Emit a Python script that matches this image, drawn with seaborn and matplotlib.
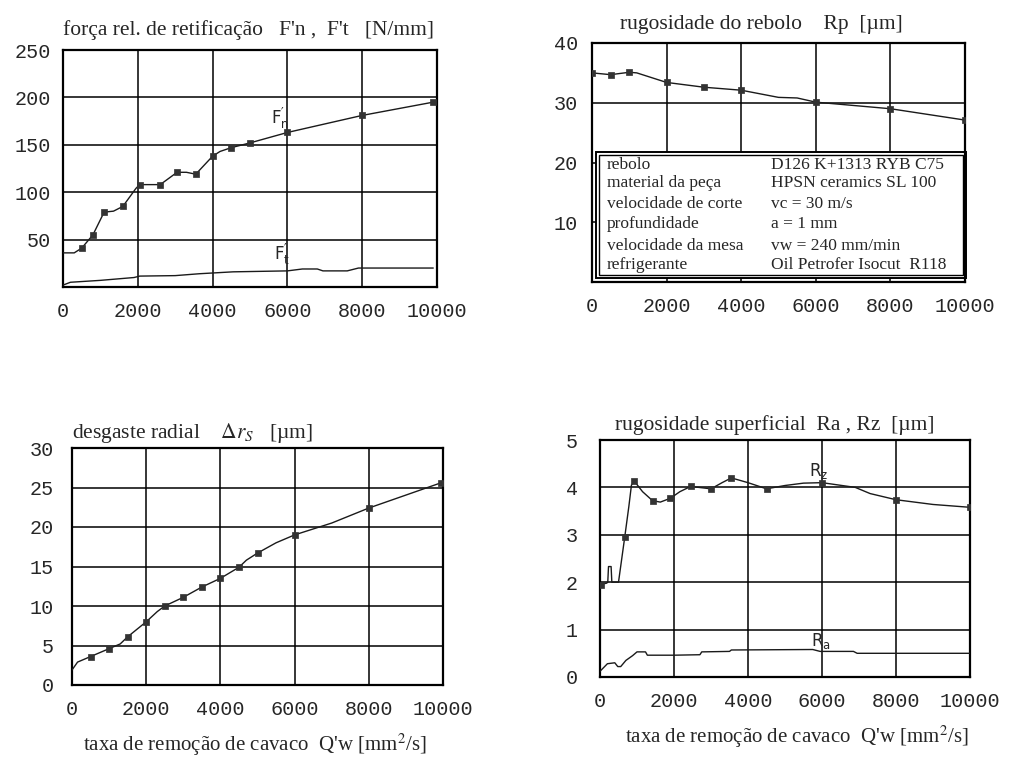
import pandas as pd
import seaborn as sns
import matplotlib.pyplot as plt
from matplotlib.patches import Rectangle

# ---- data ----
XTICKS = [0, 2000, 4000, 6000, 8000, 10000]

# força relativa de retificação F'n / F't [N/mm]
fn_x = [0, 300, 500, 800, 1100, 1350, 1600, 1950, 2050, 2600, 3050, 3300, 3550, 4000, 4200, 4500, 5000, 6000, 8000, 9900]
fn_y = [36, 36, 41, 55, 79, 80, 85, 104, 108, 108, 121, 121, 119, 138, 143, 147, 152, 163, 181, 195]
fn_mark_x = [500, 800, 1100, 1600, 2050, 2600, 3050, 3550, 4000, 4500, 5000, 6000, 8000, 9900]
fn_mark_y = [41, 55, 79, 85, 108, 108, 121, 119, 138, 147, 152, 163, 181, 195]
ft_x = [0, 200, 1000, 1900, 2050, 3000, 3650, 4550, 6000, 6400, 6800, 6950, 7600, 7900, 9900]
ft_y = [2, 5, 7, 10, 11.5, 12, 14, 16, 17, 19, 19, 17, 17, 20, 20]

# rugosidade do rebolo Rp [um]
rp_x = [0, 500, 1000, 1200, 1600, 2000, 2500, 3000, 4000, 4500, 5000, 5500, 6000, 8000, 10000]
rp_y = [35.0, 34.7, 35.1, 35.0, 34.2, 33.4, 33.0, 32.6, 32.1, 31.5, 30.9, 30.8, 30.1, 29.0, 27.1]
rp_mark_x = [0, 500, 1000, 2000, 3000, 4000, 6000, 8000, 10000]
rp_mark_y = [35.0, 34.7, 35.1, 33.4, 32.6, 32.1, 30.1, 29.0, 27.1]

# desgaste radial [um]
dr_x = [0, 150, 500, 1000, 1300, 1500, 2000, 2300, 2500, 3000, 3500, 4000, 4500, 4700, 5000, 5500, 6000, 7000, 8000, 9950]
dr_y = [1.9, 2.9, 3.6, 4.6, 5.2, 6.1, 8.0, 9.3, 10.0, 11.1, 12.4, 13.5, 14.9, 15.8, 16.7, 18.0, 19.0, 20.5, 22.4, 25.6]
dr_mark_x = [500, 1000, 1500, 2000, 2500, 3000, 3500, 4000, 4500, 5000, 6000, 8000, 9950]
dr_mark_y = [3.6, 4.6, 6.1, 8.0, 10.0, 11.1, 12.4, 13.5, 14.9, 16.7, 19.0, 22.4, 25.6]

# rugosidade superficial Ra, Rz [um]
rz_x = [0, 180, 210, 230, 300, 320, 500, 670, 780, 850, 930, 1150, 1420, 1630, 1900, 2160, 2450, 3000,
        3300, 3550, 4000, 4500, 5000, 5500, 6000, 6900, 7300, 8000, 9000, 10000]
rz_y = [1.95, 1.98, 2.0, 2.33, 2.33, 2.0, 2.0, 2.96, 3.6, 4.05, 4.13, 3.91, 3.72, 3.69, 3.77, 3.91, 4.02, 3.97,
        4.1, 4.2, 4.1, 3.97, 4.04, 4.09, 4.1, 4.0, 3.87, 3.74, 3.64, 3.58]
rz_mark_x = [30, 670, 930, 1420, 1900, 2450, 3000, 3550, 4500, 6000, 8000, 10000]
rz_mark_y = [1.95, 2.96, 4.13, 3.72, 3.77, 4.02, 3.97, 4.2, 3.97, 4.1, 3.74, 3.58]
ra_x = [0, 200, 400, 480, 560, 700, 880, 1000, 1230, 1280, 2000, 2700, 2750, 3500, 3550, 5750, 5950, 6850, 6950, 10000]
ra_y = [0.12, 0.28, 0.30, 0.22, 0.22, 0.35, 0.45, 0.53, 0.53, 0.46, 0.46, 0.47, 0.53, 0.54, 0.57, 0.58, 0.54, 0.54, 0.50, 0.50]

box_labels = ["rebolo", "material da peça", "velocidade de corte", "profundidade",
              "velocidade da mesa", "refrigerante"]
box_values = ["D126 K+1313 RYB C75", "HPSN ceramics SL 100", "vc = 30 m/s", "a = 1 mm",
              "vw = 240 mm/min", "Oil Petrofer Isocut  R118"]

sns.set_style("white")
plt.rcParams["font.family"] = ["Liberation Serif", "DejaVu Serif"]
plt.rcParams["mathtext.fontset"] = "stix"

W, H = 1009, 758
fig = plt.figure(figsize=(W / 100, H / 100), dpi=100)

LINE = "#1a1a1a"
MONO = "Liberation Mono"
TITLE_FS = 15.5


def px_box(l, t, r, b):
    return [l / W, 1 - b / H, (r - l) / W, (b - t) / H]


def fig_text(x, y, s, **kw):
    fig.text(x / W, 1 - y / H, s, **kw)


def style_axes(ax, ylim, yticks, ypad):
    ax.set_xlim(0, 10000)
    ax.set_ylim(*ylim)
    ax.set_xticks(XTICKS, [str(t) for t in XTICKS], fontfamily=MONO, fontsize=14.5)
    ax.set_yticks(yticks, [str(t) for t in yticks], fontfamily=MONO, fontsize=14.5)
    ax.tick_params(axis="x", length=0, pad=11)
    ax.tick_params(axis="y", length=0, pad=ypad)
    ax.grid(True, color="black", linewidth=1.1)
    ax.set_axisbelow(True)
    for sp in ax.spines.values():
        sp.set_visible(True)
        sp.set_color("black")
        sp.set_linewidth(1.6)
    ax.set_xlabel("")
    ax.set_ylabel("")


def draw(ax, x, y, mx=None, my=None):
    sns.lineplot(x=x, y=y, ax=ax, color=LINE, linewidth=1.0, sort=False, zorder=3)
    if mx is not None:
        sns.scatterplot(x=mx, y=my, ax=ax, marker="s", s=14, color="#333333",
                        edgecolor="#333333", linewidth=0.5, zorder=4)


# ---- panel 1 ----
ax1 = fig.add_axes(px_box(63, 50, 437, 287))
draw(ax1, fn_x, fn_y, fn_mark_x, fn_mark_y)
draw(ax1, ft_x, ft_y)
style_axes(ax1, (0, 250), [50, 100, 150, 200, 250], 9)
ax1.text(5550, 172, r"$\mathregular{F_n'}$", fontfamily="DejaVu Sans", fontsize=12)
ax1.text(5650, 28, r"$\mathregular{F_t'}$", fontfamily="DejaVu Sans", fontsize=12)
fig_text(63, 30, "força rel. de retificação   F'n ,  F't   [N/mm]", fontsize=TITLE_FS, va="center")

# ---- panel 2 ----
ax2 = fig.add_axes(px_box(592, 43, 965, 282))
draw(ax2, rp_x, rp_y, rp_mark_x, rp_mark_y)
style_axes(ax2, (0, 40), [10, 20, 30, 40], 10)
ax2.add_patch(Rectangle((0.011, 0.017), 0.992, 0.527, transform=ax2.transAxes,
                        facecolor="white", edgecolor="black", linewidth=1.4, zorder=2, clip_on=False))
ax2.add_patch(Rectangle((0.020, 0.031), 0.975, 0.500, transform=ax2.transAxes,
                        facecolor="none", edgecolor="black", linewidth=1.0, zorder=2, clip_on=False))
rows_y = [0.49, 0.414, 0.326, 0.243, 0.151, 0.071]
for yy, lab, val in zip(rows_y, box_labels, box_values):
    ax2.text(0.04, yy, lab, transform=ax2.transAxes, fontsize=12.5, va="center", zorder=5)
    ax2.text(0.48, yy, val, transform=ax2.transAxes, fontsize=12.5, va="center", zorder=5)
fig_text(620, 25, "rugosidade do rebolo    Rp  [µm]", fontsize=TITLE_FS, va="center")

# ---- panel 3 ----
ax3 = fig.add_axes(px_box(72, 448, 443, 685))
draw(ax3, dr_x, dr_y, dr_mark_x, dr_mark_y)
style_axes(ax3, (0, 30), [0, 5, 10, 15, 20, 25, 30], 13)
fig_text(72, 433, r"desgaste radial    $\Delta r_S$   [µm]", fontsize=TITLE_FS, va="center")
fig_text(255, 745, r"taxa de remoção de cavaco  Q'w [mm$^2$/s]", fontsize=15, va="center", ha="center")

# ---- panel 4 ----
ax4 = fig.add_axes(px_box(600, 440, 970, 677))
draw(ax4, rz_x, rz_y, rz_mark_x, rz_mark_y)
draw(ax4, ra_x, ra_y)
style_axes(ax4, (0, 5), [0, 1, 2, 3, 4, 5], 16)
ax4.text(5650, 4.25, r"$\mathregular{R_z}$", fontfamily="DejaVu Sans", fontsize=12)
ax4.text(5700, 0.65, r"$\mathregular{R_a}$", fontfamily="DejaVu Sans", fontsize=12)
fig_text(615, 425, "rugosidade superficial  Ra , Rz  [µm]", fontsize=TITLE_FS, va="center")
fig_text(797, 737, r"taxa de remoção de cavaco  Q'w [mm$^2$/s]", fontsize=15, va="center", ha="center")

fig.savefig("out.png", dpi=100)
